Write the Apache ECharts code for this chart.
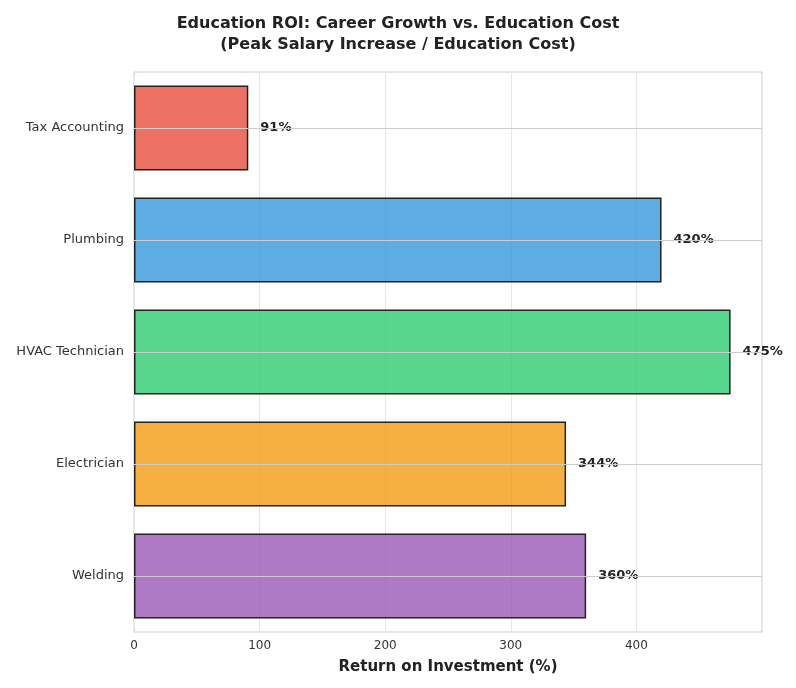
<!DOCTYPE html>
<html><head><meta charset="utf-8">
<script src="https://cdn.jsdelivr.net/npm/echarts@6/dist/echarts.min.js"></script>
</head><body style="margin:0;background:#fff">
<div id="c" style="width:796px;height:688px"></div>
<script>
const categories = ["Welding","Electrician","HVAC Technician","Plumbing","Tax Accounting"];
const values = [360, 344, 475, 420, 91];
const colors = ["rgba(155,89,182,0.8)","rgba(243,156,18,0.8)","rgba(46,204,113,0.8)","rgba(52,152,219,0.8)","rgba(231,76,60,0.8)"];
const chart = echarts.init(document.getElementById('c'));
chart.setOption({
  animation:false,
  title:{text:"Education ROI: Career Growth vs. Education Cost\n(Peak Salary Increase / Education Cost)",left:'center',top:8,
    textStyle:{fontFamily:'DejaVu Sans',fontSize:16,fontWeight:'bold',color:'#222',lineHeight:21}},
  grid:{left:134,right:34,top:72,bottom:56},
  xAxis:{type:'value',min:0,max:500,interval:100,name:'Return on Investment (%)',nameLocation:'middle',nameGap:28,
    nameTextStyle:{fontFamily:'DejaVu Sans',fontSize:15,fontWeight:'bold',color:'#222'},
    axisLine:{show:false},axisTick:{show:false},
    axisLabel:{color:'#333',fontFamily:'DejaVu Sans',fontSize:12,formatter:v=>v>=500?'':v},
    splitLine:{lineStyle:{color:'#e6e6e6'}}},
  yAxis:{type:'category',data:categories,axisTick:{show:false},axisLine:{show:false},
    axisLabel:{color:'#333',fontFamily:'DejaVu Sans',fontSize:13,margin:10},splitLine:{show:false}},
  series:[
    {type:'line',data:[],z:1,silent:true,markLine:{silent:true,symbol:'none',label:{show:false},
      lineStyle:{color:'#cccccc',type:'solid',width:1},data:categories.map(c=>({yAxis:c}))}},
    {type:'bar',z:2,barCategoryGap:'24%',
     data:values.map((v,i)=>({value:v,itemStyle:{color:colors[i]}})),
     itemStyle:{borderColor:'#222',borderWidth:1.5},
     label:{show:true,position:'right',distance:12,formatter:p=>p.value+'%',fontFamily:'DejaVu Sans',fontSize:13,fontWeight:'bold',color:'#222'}}
  ],
  graphic:[{type:'rect',shape:{x:134,y:72,width:628,height:560},style:{fill:'none',stroke:'#cccccc',lineWidth:1},silent:true}]
});
</script></body></html>
